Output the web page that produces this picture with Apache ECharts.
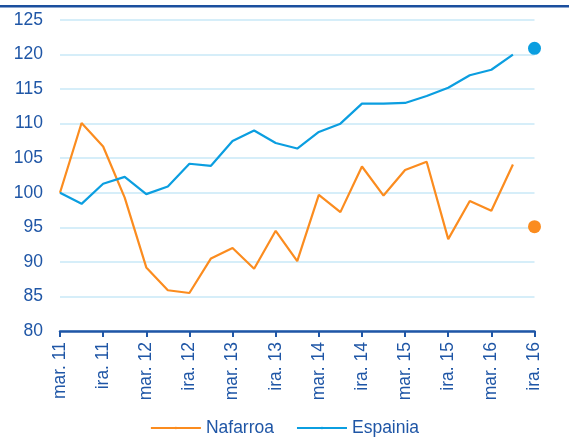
<!DOCTYPE html>
<html>
<head>
<meta charset="utf-8">
<script src="https://cdn.jsdelivr.net/npm/echarts@6/dist/echarts.min.js"></script>
<style>
  html, body { margin: 0; padding: 0; background: #fff; }
  #chart { width: 569px; height: 437px; }
</style>
</head>
<body>
<div id="chart"></div>
<script>
// quarterly, labelled every second quarter (mar. = March, ira. = September)
const quarters = [
  'mar. 11', 'eka. 11', 'ira. 11', 'abe. 11',
  'mar. 12', 'eka. 12', 'ira. 12', 'abe. 12',
  'mar. 13', 'eka. 13', 'ira. 13', 'abe. 13',
  'mar. 14', 'eka. 14', 'ira. 14', 'abe. 14',
  'mar. 15', 'eka. 15', 'ira. 15', 'abe. 15',
  'mar. 16', 'eka. 16', 'ira. 16',
]

const nafarroa = [
  100, 110.1, 106.7, 99.3, 89.2, 85.9, 85.5, 90.5, 92.0, 89.0, 94.5,
  90.1, 99.7, 97.2, 103.8, 99.6, 103.3, 104.5, 93.3, 98.8, 97.4, 104.1,
]
const espainia = [
  100, 98.4, 101.3, 102.3, 99.8, 100.9, 104.2, 103.9, 107.5, 109.0, 107.2,
  106.4, 108.8, 110.0, 112.9, 112.9, 113.0, 114.0, 115.2, 117.0, 117.8, 120.0,
]
// single separate points in the last quarter
const nafarroaLast = 95.1
const espainiaLast = 120.9

const orange = '#fb8c1f'
const blue = '#0b9ee0'
const navy = '#1f56a6'
const font = '"Liberation Sans", Arial, sans-serif'

const lastOnly = (v) => quarters.map((_, i) => (i === quarters.length - 1 ? v : null))

const chart = echarts.init(document.getElementById('chart'), null, { renderer: 'canvas' })

chart.setOption({
  animation: false,
  textStyle: { fontFamily: font },
  graphic: [
    { type: 'rect', shape: { x: 0, y: 5, width: 569, height: 2.5 }, style: { fill: '#1b4f9e' } },
  ],
  grid: { left: 60, right: 34.5, top: 20, bottom: 106, containLabel: false },
  legend: {
    top: 414,
    left: 'center',
    itemWidth: 50,
    itemHeight: 3,
    itemGap: 22,
    data: ['Nafarroa', 'Espainia'],
    textStyle: { color: navy, fontSize: 17.5, fontFamily: font },
  },
  xAxis: {
    type: 'category',
    data: quarters,
    boundaryGap: false,
    axisLine: { lineStyle: { color: navy, width: 2.5 } },
    axisTick: { interval: 1, length: 6, lineStyle: { color: navy, width: 2 } },
    axisLabel: {
      interval: 1,
      rotate: 90,
      margin: 11,
      color: navy,
      fontSize: 17.5,
      fontFamily: font,
    },
    splitLine: { show: false },
  },
  yAxis: {
    type: 'value',
    min: 80,
    max: 125,
    interval: 5,
    axisLine: { show: false },
    axisTick: { show: false },
    axisLabel: { color: navy, fontSize: 17.5, fontFamily: font, margin: 17 },
    splitLine: { lineStyle: { color: '#c9e8f7', width: 1.5 } },
  },
  series: [
    {
      name: 'Nafarroa',
      type: 'line',
      data: nafarroa,
      symbol: 'none',
      color: orange,
      lineStyle: { width: 2.2, color: orange },
    },
    {
      name: 'Espainia',
      type: 'line',
      data: espainia,
      symbol: 'none',
      color: blue,
      lineStyle: { width: 2.2, color: blue },
    },
    {
      name: 'NafarroaLast',
      type: 'scatter',
      data: lastOnly(nafarroaLast),
      symbolSize: 13,
      itemStyle: { color: orange, opacity: 1 },
    },
    {
      name: 'EspainiaLast',
      type: 'scatter',
      data: lastOnly(espainiaLast),
      symbolSize: 13,
      itemStyle: { color: blue, opacity: 1 },
    },
  ],
})
</script>
</body>
</html>
